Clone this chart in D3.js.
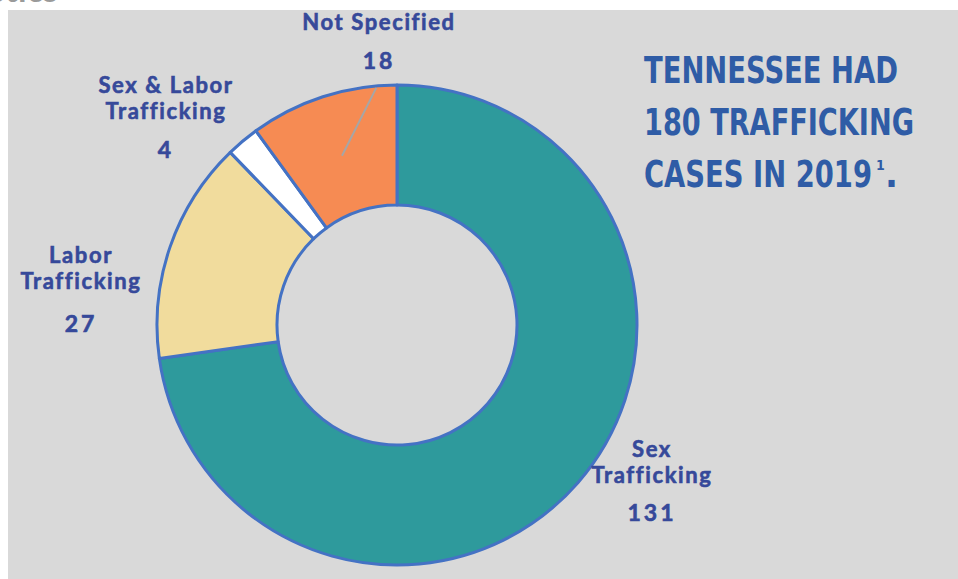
<!DOCTYPE html>
<html>
<head>
<meta charset="utf-8">
<script src="https://cdn.jsdelivr.net/npm/d3@7"></script>
<style>
  html, body { margin: 0; padding: 0; background: #ffffff; }
  svg { display: block; }
</style>
</head>
<body>
<div id="chart"></div>
<script>
// categories and values, clockwise from 12 o'clock
var categories = ['Sex Trafficking', 'Labor Trafficking', 'Sex & Labor Trafficking', 'Not Specified'];
var cases = [131, 27, 4, 18];
var sliceColors = ['#2e9a9c', '#f1dc9d', '#ffffff', '#f68b53'];
var titleLines = ['TENNESSEE HAD', '180 TRAFFICKING', 'CASES IN 2019'];

var width = 958, height = 579;
var cx = 397, cy = 325;
var outerR = 240, innerR = 120;

var svg = d3.select('#chart').append('svg')
    .attr('width', width)
    .attr('height', height);

// cut-off heading above the panel
svg.append('text')
    .attr('x', 58)
    .attr('y', 2)
    .attr('text-anchor', 'end')
    .style('font-family', 'Lato, sans-serif')
    .style('font-size', '34px')
    .style('font-weight', 'bold')
    .style('fill', '#9a9a9a')
    .text('Statistics');

// gray panel
svg.append('rect')
    .attr('x', 8)
    .attr('y', 10)
    .attr('width', width - 8)
    .attr('height', height - 10)
    .attr('fill', '#d9d9d9');

var dataset = categories.map(function (c, i) {
    return { cat: c, value: cases[i], color: sliceColors[i] };
});

var pie = d3.pie()
    .sort(null)
    .value(function (d) { return d.value; });

var arc = d3.arc()
    .innerRadius(innerR)
    .outerRadius(outerR);

var arcs = pie(dataset);

var g = svg.append('g')
    .attr('transform', 'translate(' + cx + ',' + cy + ')');

g.selectAll('.slice')
    .data(arcs)
    .enter()
    .append('path')
    .attr('class', 'slice')
    .attr('d', arc)
    .attr('fill', function (d) { return d.data.color; })
    .attr('stroke', '#4472c4')
    .attr('stroke-width', 3)
    .attr('stroke-linejoin', 'round');

// leader line for "Not Specified": from inside the slice up to the outer edge
var ns = arcs[3];
var aIn = (ns.startAngle + ns.endAngle) / 2;
var aOut = ns.endAngle - 5 * Math.PI / 180;
g.append('line')
    .attr('x1', Math.sin(aIn) * 178).attr('y1', -Math.cos(aIn) * 178)
    .attr('x2', Math.sin(aOut) * 238).attr('y2', -Math.cos(aOut) * 238)
    .attr('stroke', '#a6a6a6')
    .attr('stroke-width', 2);

// label anchors relative to the chart centre
var labelPos = {
    'Sex Trafficking': { x: 255, y: 132, vy: 196, lines: ['Sex', 'Trafficking'] },
    'Labor Trafficking': { x: -316, y: -62, vy: 7, lines: ['Labor', 'Trafficking'] },
    'Sex & Labor Trafficking': { x: -231, y: -232, vy: -167, lines: ['Sex & Labor', 'Trafficking'] },
    'Not Specified': { x: -18, y: -295, vy: -256, lines: ['Not Specified'] }
};

var labels = g.selectAll('.label')
    .data(arcs)
    .enter()
    .append('g')
    .attr('class', 'label')
    .style('font-family', 'Lato, sans-serif')
    .style('font-weight', 'bold')
    .style('fill', '#36499a')
    .style('stroke', '#36499a')
    .style('stroke-width', '0.6px')
    .attr('text-anchor', 'middle');

labels.each(function (d) {
    var p = labelPos[d.data.cat];
    var sel = d3.select(this);
    p.lines.forEach(function (line, i) {
        sel.append('text')
            .attr('x', p.x)
            .attr('y', p.y + i * 26)
            .style('font-size', '22px')
            .style('letter-spacing', '1.6px')
            .text(line);
    });
    sel.append('text')
        .attr('x', p.x)
        .attr('y', p.vy)
        .style('font-size', '23px')
        .style('letter-spacing', '3px')
        .text(d.data.value);
});

// title block
var title = svg.append('g')
    .style('font-family', '"DejaVu Sans Condensed", "DejaVu Sans", sans-serif')
    .style('font-weight', 'bold')
    .style('fill', '#2f5ca6');

var titleWidths = [254, 270, 228];
titleLines.forEach(function (t, i) {
    title.append('text')
        .attr('x', 644)
        .attr('y', 83 + i * 52)
        .attr('textLength', titleWidths[i])
        .attr('lengthAdjust', 'spacingAndGlyphs')
        .style('font-size', '38px')
        .text(t);
});
title.append('text')
    .attr('x', 876)
    .attr('y', 170)
    .style('font-size', '14px')
    .text('1');
title.append('text')
    .attr('x', 885)
    .attr('y', 187)
    .style('font-size', '38px')
    .text('.');
</script>
</body>
</html>
